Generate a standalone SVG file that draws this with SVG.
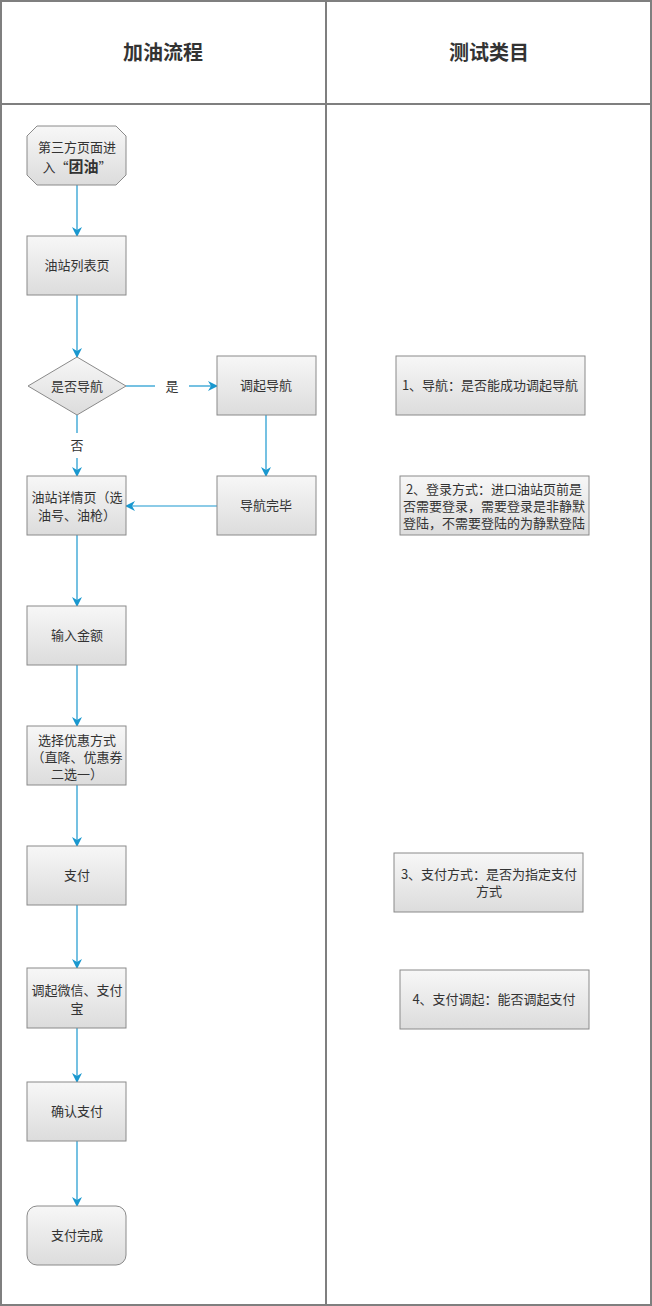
<svg xmlns="http://www.w3.org/2000/svg" width="652" height="1306" viewBox="0 0 652 1306">
<defs>
<linearGradient id="g" x1="0" y1="0" x2="0" y2="1">
<stop offset="0" stop-color="#f7f7f7"/>
<stop offset="1" stop-color="#dcdcdc"/>
</linearGradient>
<marker id="ah" viewBox="0 0 10 10" refX="9" refY="5" markerWidth="10" markerHeight="10" markerUnits="userSpaceOnUse" orient="auto">
<path d="M0,0 L10,5 L0,10 L3,5 z" fill="#1a98cf"/>
</marker>
<style>
.n{fill:url(#g);stroke:#8a8a8a;stroke-width:1}
.t{font-family:"Microsoft YaHei","Noto Sans CJK SC",sans-serif;font-size:13px;fill:#333;text-anchor:middle}
.h{font-family:"Microsoft YaHei","Noto Sans CJK SC",sans-serif;font-size:20px;font-weight:bold;fill:#333;text-anchor:middle}
.c{fill:none;stroke:#1a98cf;stroke-width:1.2;marker-end:url(#ah)}
.l{fill:none;stroke:#1a98cf;stroke-width:1.2}
.g{fill:none;stroke:#7f7f7f;stroke-width:2}
</style>
</defs>
<rect width="652" height="1306" fill="#ffffff"/>
<g id="frame">
<rect x="1" y="1" width="650" height="1304" class="g"/>
<line x1="326" y1="0" x2="326" y2="1306" class="g"/>
<line x1="0" y1="104" x2="652" y2="104" class="g"/>
<text x="163" y="60" class="h">加油流程</text>
<text x="489" y="60" class="h">测试类目</text>
</g>
<g id="connectors">
<line x1="77" y1="185" x2="77" y2="236" class="c"/>
<line x1="77" y1="295" x2="77" y2="357" class="c"/>
<line x1="126" y1="386" x2="155" y2="386" class="l"/>
<line x1="189" y1="386" x2="217" y2="386" class="c"/>
<text x="172" y="391" class="t">是</text>
<line x1="77" y1="415" x2="77" y2="433" class="l"/>
<line x1="77" y1="458" x2="77" y2="476" class="c"/>
<text x="77" y="450" class="t">否</text>
<line x1="266" y1="415" x2="266" y2="476" class="c"/>
<line x1="217" y1="506" x2="126" y2="506" class="c"/>
<line x1="77" y1="535" x2="77" y2="606" class="c"/>
<line x1="77" y1="665" x2="77" y2="726" class="c"/>
<line x1="77" y1="785" x2="77" y2="846" class="c"/>
<line x1="77" y1="905" x2="77" y2="968" class="c"/>
<line x1="77" y1="1028" x2="77" y2="1082" class="c"/>
<line x1="77" y1="1141" x2="77" y2="1206" class="c"/>
</g>
<g id="start">
<path d="M37,126 H116 L126,136 V175 L116,185 H37 L27,175 V136 Z" class="n"/>
<text x="77" y="152" class="t">第三方页面进</text>
<text x="77" y="172" class="t">入“<tspan font-weight="bold" font-size="15px">团油</tspan>”</text>
</g>
<g id="list">
<rect x="27" y="236" width="99" height="59" class="n"/>
<text x="77" y="270" class="t">油站列表页</text>
</g>
<g id="decision">
<path d="M77,357 L126,386 L77,415 L28,386 Z" class="n"/>
<text x="77" y="391" class="t">是否导航</text>
</g>
<g id="nav">
<rect x="217" y="356" width="99" height="59" class="n"/>
<text x="266" y="390" class="t">调起导航</text>
</g>
<g id="navdone">
<rect x="217" y="476" width="99" height="59" class="n"/>
<text x="266" y="510" class="t">导航完毕</text>
</g>
<g id="detail">
<rect x="27" y="476" width="99" height="59" class="n"/>
<text x="77" y="502" class="t">油站详情页（选</text>
<text x="77" y="520" class="t">油号、油枪）</text>
</g>
<g id="amount">
<rect x="27" y="606" width="99" height="59" class="n"/>
<text x="77" y="640" class="t">输入金额</text>
</g>
<g id="discount">
<rect x="27" y="726" width="99" height="59" class="n"/>
<text x="77" y="745" class="t">选择优惠方式</text>
<text x="77" y="762" class="t">（直降、优惠券</text>
<text x="77" y="779" class="t">二选一）</text>
</g>
<g id="pay">
<rect x="27" y="846" width="99" height="59" class="n"/>
<text x="77" y="880" class="t">支付</text>
</g>
<g id="wechat">
<rect x="27" y="968" width="99" height="60" class="n"/>
<text x="77" y="995" class="t">调起微信、支付</text>
<text x="77" y="1013" class="t">宝</text>
</g>
<g id="confirm">
<rect x="27" y="1082" width="99" height="59" class="n"/>
<text x="77" y="1116" class="t">确认支付</text>
</g>
<g id="done">
<rect x="27" y="1206" width="99" height="59" rx="10" ry="10" class="n"/>
<text x="77" y="1240" class="t">支付完成</text>
</g>
<g id="test1">
<rect x="396" y="356" width="189" height="59" class="n"/>
<text x="490" y="390" class="t">1、导航：是否能成功调起导航</text>
</g>
<g id="test2">
<rect x="400" y="476" width="189" height="59" class="n"/>
<text x="494" y="494" class="t">2、登录方式：进口油站页前是</text>
<text x="494" y="511" class="t">否需要登录，需要登录是非静默</text>
<text x="494" y="528" class="t">登陆，不需要登陆的为静默登陆</text>
</g>
<g id="test3">
<rect x="394" y="853" width="189" height="59" class="n"/>
<text x="489" y="879" class="t">3、支付方式：是否为指定支付</text>
<text x="489" y="896" class="t">方式</text>
</g>
<g id="test4">
<rect x="400" y="970" width="189" height="59" class="n"/>
<text x="494" y="1004" class="t">4、支付调起：能否调起支付</text>
</g>
</svg>
